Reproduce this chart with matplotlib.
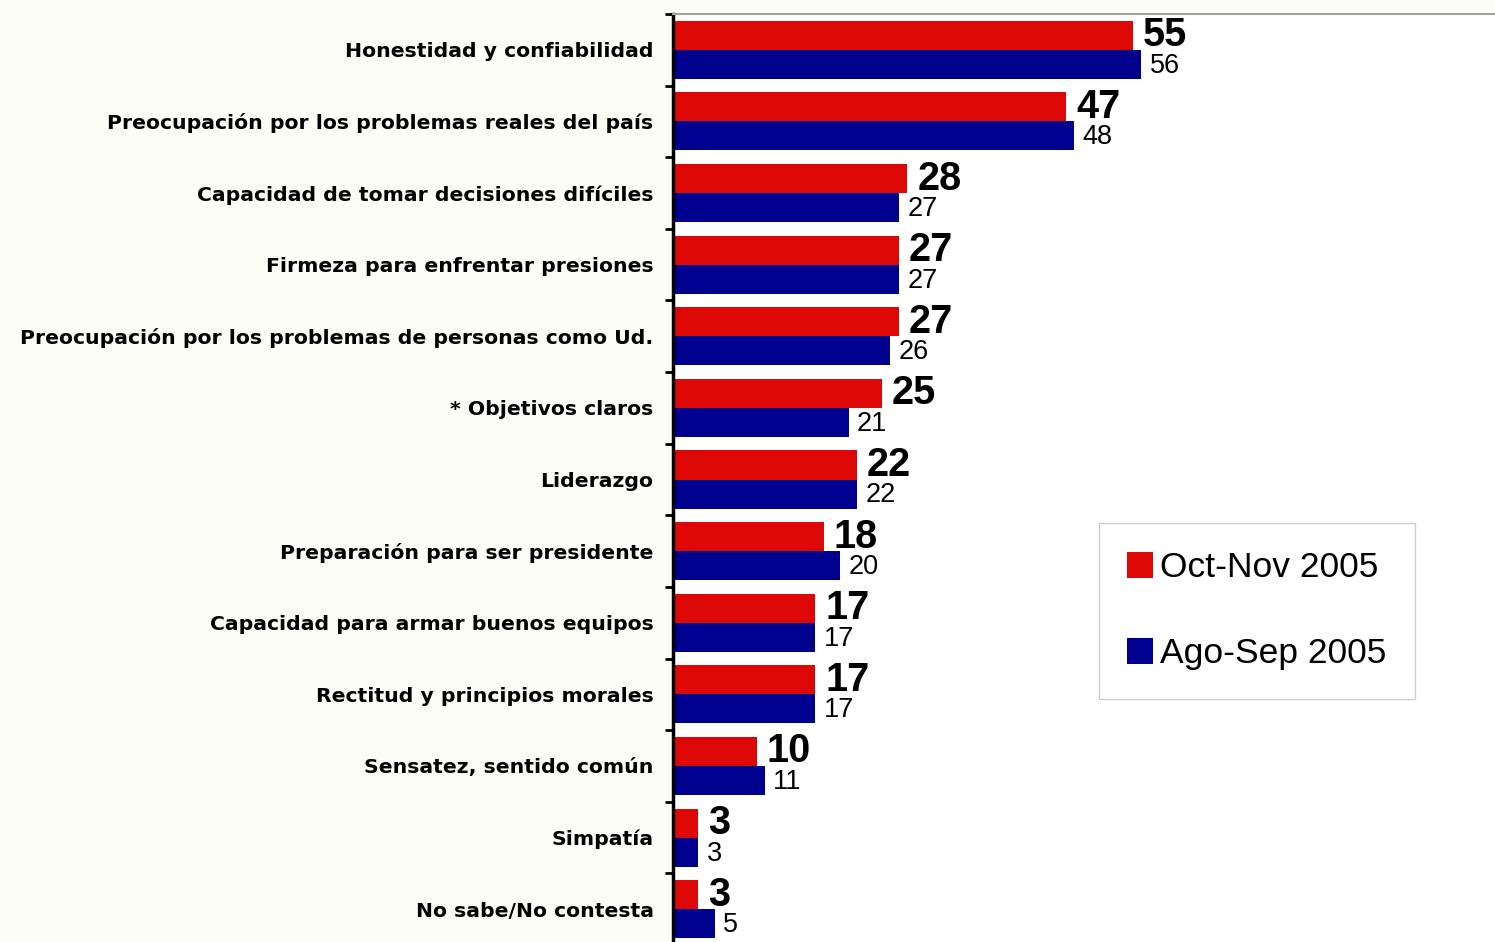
import matplotlib.pyplot as plt
from matplotlib.patches import Patch
import numpy as np

# Data
categories = [
    'Honestidad y confiabilidad',
    'Preocupación por los problemas reales del país',
    'Capacidad de tomar decisiones difíciles',
    'Firmeza para enfrentar presiones',
    'Preocupación por los problemas de personas como Ud.',
    '* Objetivos claros',
    'Liderazgo',
    'Preparación para ser presidente',
    'Capacidad para armar buenos equipos',
    'Rectitud y principios morales',
    'Sensatez, sentido común',
    'Simpatía',
    'No sabe/No contesta',
]
oct_nov = [55, 47, 28, 27, 27, 25, 22, 18, 17, 17, 10, 3, 3]
ago_sep = [56, 48, 27, 27, 26, 21, 22, 20, 17, 17, 11, 3, 5]
series_names = ['Oct-Nov 2005', 'Ago-Sep 2005']

red = '#DD0806'
blue = '#00008F'

W, H = 1495, 942
fig = plt.figure(figsize=(W / 100, H / 100), dpi=100, facecolor='#FDFDF7')
ax = fig.add_axes([673 / W, -3 / H, (W - 673) / W, 931 / H])
ax.set_facecolor('white')

n = len(categories)
centers = np.arange(n) + 0.5
h = 0.405
ax.barh(centers - h / 2, oct_nov, height=h, color=red)
ax.barh(centers + h / 2, ago_sep, height=h, color=blue)

ax.set_xlim(0, 98.3)
ax.set_ylim(n, 0)

# value labels
for c, v in zip(centers, oct_nov):
    ax.text(v + 1.2, c - h / 2, str(v), va='center', ha='left',
            fontsize=28.5, fontweight='bold', family='Liberation Sans')
for c, v in zip(centers, ago_sep):
    ax.text(v + 1.0, c + h / 2 + 0.02, str(v), va='center', ha='left',
            fontsize=19.5, family='Liberation Sans')

# ticks
ax.set_xticks([])
ax.set_yticks(centers)
ax.set_yticklabels(categories, fontsize=14.7, fontweight='bold')
ax.set_yticks(np.arange(n + 1), minor=True)
ax.tick_params(axis='y', which='major', length=0, pad=14)
ax.tick_params(axis='y', which='minor', length=6, width=2, direction='out')

for s in ['right', 'bottom']:
    ax.spines[s].set_visible(False)
ax.spines['left'].set_linewidth(2.5)
ax.spines['top'].set_color('#A0A0A0')
ax.spines['top'].set_linewidth(1.5)

handles = [Patch(facecolor=red), Patch(facecolor=blue)]
fig.legend(handles, series_names, loc='upper left',
           bbox_to_anchor=(1099 / W, 1 - 523 / H),
           prop={'family': 'Liberation Sans', 'size': 25.5},
           handlelength=0.72, handleheight=0.72, handletextpad=0.2,
           labelspacing=1.5, borderpad=0.8, borderaxespad=0,
           fancybox=False, edgecolor='#CCCCCC', framealpha=1)

fig.savefig('out.png', dpi=100, facecolor=fig.get_facecolor())
